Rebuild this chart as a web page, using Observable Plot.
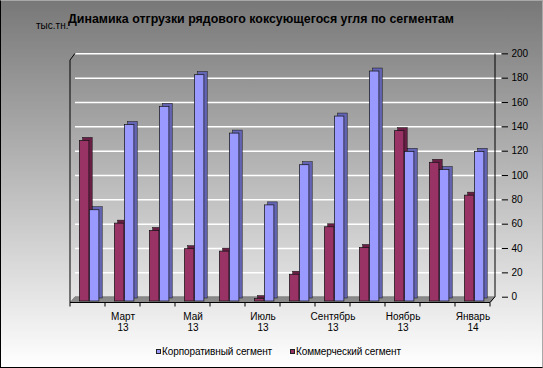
<!DOCTYPE html>
<html><head><meta charset="utf-8">
<script src="https://cdn.jsdelivr.net/npm/d3@7"></script>
<script src="https://cdn.jsdelivr.net/npm/@observablehq/plot@0.6"></script>
<style>
html,body{margin:0;padding:0;background:#fff;}
#chart{position:relative;width:541px;height:366px;border-style:solid;border-width:1px;border-color:#a8a8a8 #a8a8a8 #000 #000;background:linear-gradient(to bottom,#787878 0%,#ffffff 100%);font-family:"Liberation Sans",Arial,sans-serif;overflow:hidden;color:#000;}
#head{position:relative;height:33px;}
#title{position:absolute;left:67px;top:11px;font-size:12.4px;font-weight:bold;line-height:14px;white-space:nowrap;}
#unit{position:absolute;left:35px;top:19px;font-size:10px;line-height:12px;white-space:nowrap;}
#plot svg{display:block;}
.item{position:absolute;top:345px;font-size:10px;line-height:12px;white-space:nowrap;letter-spacing:-0.1px;}
.sw{display:inline-block;width:3px;height:3px;border:0.6px solid #222;margin-right:1px;vertical-align:1px;}
</style></head>
<body>
<div id="chart">
  <div id="head"><div id="unit">тыс.тн.</div><div id="title">Динамика отгрузки рядового коксующегося угля по сегментам</div></div>
  <div id="plot"></div>
  <div class="item" id="lg1" style="left:155px"><span class="sw" style="background:#9999ff"></span>Корпоративный сегмент</div>
  <div class="item" id="lg2" style="left:289px"><span class="sw" style="background:#993366"></span>Коммерческий сегмент</div>
</div>
<script>
const months = ["Февраль 13","Март 13","Апрель 13","Май 13","Июнь 13","Июль 13","Август 13","Сентябрь 13","Октябрь 13","Ноябрь 13","Декабрь 13","Январь 14"];
const corporate = [75, 145, 160, 186, 138, 79, 112, 152, 189, 123, 108, 123];
const commercial = [132, 64, 58, 43, 41, 2, 22, 61, 44, 140, 114, 87];
const seriesNames = ["Корпоративный сегмент", "Коммерческий сегмент"];
const xTickLabels = months.filter((d, i) => i % 2 === 1);
const yTicks = [0, 20, 40, 60, 80, 100, 120, 140, 160, 180, 200];
const gridTicks = yTicks.filter(d => d > 0);

const corpData = months.map((m, i) => ({month: m, value: corporate[i], series: seriesNames[0]}));
const commData = months.map((m, i) => ({month: m, value: commercial[i], series: seriesNames[1]}));

const FRONT = 4.3;  // vertical offset of bar fronts from back wall
const barOpts = {x: "month", y: "value"};

const plot = Plot.plot({
  width: 541,
  height: 300,
  marginLeft: 74,
  marginRight: 41,
  marginTop: 19,
  marginBottom: 31.5,
  style: {background: "transparent", fontFamily: "Liberation Sans, Arial, sans-serif", fontSize: "10px", color: "black", overflow: "visible"},
  x: {type: "band", domain: months, range: [66.3, 492.3], padding: 0},
  y: {domain: [0, 200], range: [262.7, 19.35]},
  marks: [
    Plot.ruleY(gridTicks, {stroke: "white", strokeWidth: 1.5}),
    Plot.barY(commData, {...barOpts, fill: "#6a1f46", stroke: "#111", strokeWidth: 0.5, dx: 3.3, dy: FRONT - 3, insetLeft: 9.4, insetRight: 16.1}),
    Plot.barY(commData, {...barOpts, fill: "#993366", stroke: "#111", strokeWidth: 0.7, dy: FRONT, insetLeft: 9.4, insetRight: 16.1}),
    Plot.barY(corpData, {...barOpts, fill: "#6464b4", stroke: "#111", strokeWidth: 0.5, dx: 3.3, dy: FRONT - 3, insetLeft: 19.4, insetRight: 6.1}),
    Plot.barY(corpData, {...barOpts, fill: "#9999ff", stroke: "#111", strokeWidth: 0.7, dy: FRONT, insetLeft: 19.4, insetRight: 6.1}),
    Plot.axisY({anchor: "right", ticks: yTicks, tickSize: 6, tickPadding: 4, label: null, fill: "black", stroke: "black"}),
    Plot.axisX({anchor: "bottom", ticks: xTickLabels, tickSize: 0, tickPadding: 9.2, label: null, lineHeight: 1.1, tickFormat: d => d.replace(" ", "\n"), fill: "black"})
  ]
});
document.getElementById("plot").appendChild(plot);

// 3D floor, walls and category tick marks, placed with the plot's own scales
const xs = plot.scale("x"), ys = plot.scale("y");
const bw = xs.bandwidth;
const x0 = xs.apply(months[0]);
const x1 = xs.apply(months[months.length - 1]) + bw;
const yBack0 = ys.apply(0);
const yTop = ys.apply(200);
const yFront = yBack0 + FRONT + 1.5;
const depthX = 74 - x0;
const svg = d3.select(plot);
const under = svg.insert("g", ":first-child");
under.append("polygon")
  .attr("points", [[x0, yFront], [x1, yFront], [x1 + depthX, yBack0], [x0 + depthX, yBack0]].map(p => p.join(",")).join(" "))
  .attr("fill", "#8a8a8a").attr("stroke", "#555").attr("stroke-width", 0.5);
const over = svg.append("g").attr("stroke", "black").attr("fill", "none");
over.append("line").attr("x1", x0).attr("x2", x1).attr("y1", yFront).attr("y2", yFront);
over.append("polyline").attr("points", [[x0, yFront], [x0, yTop + 6.7], [x0 + depthX, yTop]].map(p => p.join(",")).join(" "));
over.append("line").attr("x1", x1 + depthX).attr("x2", x1 + depthX).attr("y1", yTop).attr("y2", yBack0);
over.append("line").attr("x1", x1).attr("x2", x1 + depthX).attr("y1", yFront).attr("y2", yBack0);
for (let i = 0; i <= months.length; i++) {
  const xx = x0 + i * bw;
  over.append("line").attr("x1", xx).attr("x2", xx).attr("y1", yFront).attr("y2", yFront + 4);
}
</script>
</body></html>
